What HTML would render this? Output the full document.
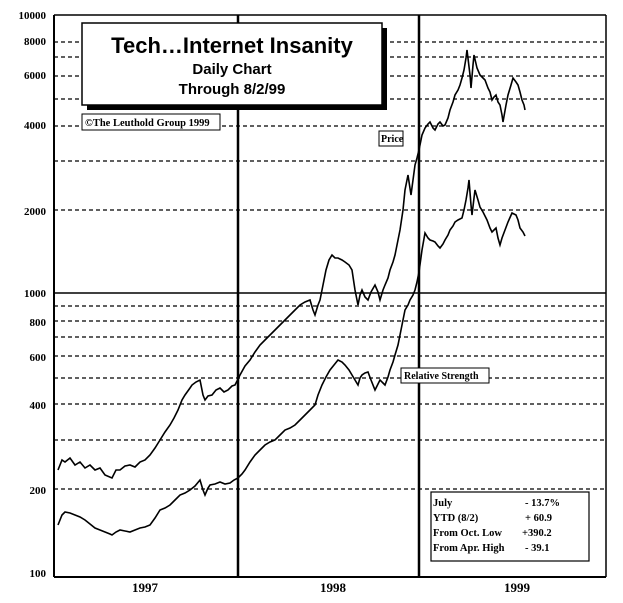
<!DOCTYPE html>
<html><head><meta charset="utf-8"><style>
body{margin:0;background:#fff;}
svg text{font-family:"Liberation Serif",serif;font-weight:bold;}
</style></head><body>
<svg width="623" height="598" viewBox="0 0 623 598" xmlns="http://www.w3.org/2000/svg">
<rect width="623" height="598" fill="#fff"/>
<g stroke="#000" stroke-width="1.3" stroke-dasharray="4,3">
<line x1="54" x2="606" y1="42" y2="42"/><line x1="54" x2="606" y1="57" y2="57"/>
<line x1="54" x2="606" y1="76" y2="76"/><line x1="54" x2="606" y1="99" y2="99"/>
<line x1="54" x2="606" y1="126" y2="126"/><line x1="54" x2="606" y1="161" y2="161"/>
<line x1="54" x2="606" y1="210" y2="210"/>
<line x1="54" x2="606" y1="306" y2="306"/><line x1="54" x2="606" y1="321" y2="321"/>
<line x1="54" x2="606" y1="337" y2="337"/><line x1="54" x2="606" y1="356" y2="356"/>
<line x1="54" x2="606" y1="378" y2="378"/><line x1="54" x2="606" y1="404" y2="404"/>
<line x1="54" x2="606" y1="440" y2="440"/><line x1="54" x2="606" y1="489" y2="489"/>
</g>
<g stroke="#000" fill="none">
<line x1="54" x2="606" y1="15" y2="15" stroke-width="1.5"/>
<line x1="54" x2="606" y1="293" y2="293" stroke-width="1.5"/>
<line x1="54" x2="606" y1="577" y2="577" stroke-width="2"/>
<line x1="54" x2="54" y1="15" y2="577" stroke-width="2"/>
<line x1="606" x2="606" y1="15" y2="577" stroke-width="1.5"/>
<line x1="238" x2="238" y1="15" y2="577" stroke-width="2.5"/>
<line x1="419" x2="419" y1="15" y2="577" stroke-width="2.5"/>
</g>
<polyline fill="none" stroke="#000" stroke-width="1.6" points="58,470 62,460 65,462 70,458 75,465 80,462 85,468 90,465 95,470 100,468 105,475 112,478 116,470 120,470 125,466 130,465 135,467 140,462 145,460 150,455 155,448 160,440 165,432 170,425 174,418 178,410 182,400 185,395 190,388 192,385 196,382 200,380 203,395 205,400 208,396 212,395 216,390 220,388 224,392 228,390 232,386 235,385 240,375 245,366 250,360 255,352 260,345 265,340 270,335 275,330 280,325 285,320 290,315 295,310 300,305 305,302 310,300 313,310 315,315 318,305 320,300 323,285 326,270 329,260 332,255 335,258 338,258 342,260 345,262 349,265 352,270 355,290 358,305 360,295 362,290 365,297 368,300 371,292 375,285 378,292 380,300 383,290 385,285 388,278 390,270 393,262 395,255 398,240 400,230 403,210 405,190 408,175 411,195 413,180 415,165 417,158 419,150 422,135 425,128 428,124 430,122 433,128 435,130 438,124 440,122 443,126 445,125 448,118 450,110 453,102 455,95 458,90 460,85 462,78 464,70 466,58 467,50 470,75 471,88 473,65 474,55 477,68 480,75 483,78 485,80 488,88 490,92 492,100 494,97 496,95 498,102 500,105 502,115 503,122 506,105 508,95 511,85 513,78 516,82 518,85 520,92 522,100 524,105 525,110"/>
<polyline fill="none" stroke="#000" stroke-width="1.6" points="58,525 62,515 65,512 70,513 75,515 80,517 85,520 90,524 95,528 100,530 105,532 110,534 112,535 116,532 120,530 125,531 130,532 135,530 140,528 145,527 150,525 155,518 160,510 165,508 170,505 175,500 180,495 185,493 190,490 195,486 200,480 203,490 205,495 208,488 210,485 215,484 220,482 225,484 230,483 234,480 238,478 242,474 245,470 250,462 255,455 260,450 265,445 270,442 275,440 280,435 285,430 290,428 295,425 300,420 305,415 310,410 315,405 318,395 322,385 326,377 330,370 334,365 338,360 342,362 345,365 349,370 352,375 355,380 358,385 360,378 362,375 365,373 368,372 371,380 375,390 378,384 380,380 383,383 385,385 388,377 390,370 393,362 395,355 398,345 400,335 403,320 405,310 408,305 410,300 413,295 415,290 417,282 419,272 422,250 425,233 428,238 430,240 433,241 435,242 438,246 440,248 443,244 445,240 448,235 450,230 453,226 455,222 458,220 462,218 464,210 466,200 468,188 469,180 471,205 472,215 474,198 475,190 478,200 480,207 483,212 487,220 490,228 492,232 494,230 496,228 498,238 500,245 502,238 505,230 508,222 512,213 516,215 518,220 520,228 523,232 525,236"/>
<rect x="87" y="28" width="300" height="82" fill="#000"/>
<rect x="82" y="23" width="300" height="82" fill="#fff" stroke="#000" stroke-width="1.5"/>
<text x="232" y="53" text-anchor="middle" style="font-family:'Liberation Sans',sans-serif;font-size:22px">Tech…Internet Insanity</text>
<text x="232" y="74" text-anchor="middle" style="font-family:'Liberation Sans',sans-serif;font-size:15px">Daily Chart</text>
<text x="232" y="94" text-anchor="middle" style="font-family:'Liberation Sans',sans-serif;font-size:15px">Through 8/2/99</text>
<rect x="82" y="114" width="138" height="16" fill="#fff" stroke="#000"/>
<text x="85" y="126" font-size="10.5">©The Leuthold Group 1999</text>
<rect x="379" y="131" width="24" height="15" fill="#fff" stroke="#000"/>
<text x="381" y="142" font-size="10">Price</text>
<rect x="401" y="368" width="88" height="15" fill="#fff" stroke="#000"/>
<text x="404" y="379" font-size="10">Relative Strength</text>
<rect x="431" y="492" width="158" height="69" fill="#fff" stroke="#000" stroke-width="1.2"/>
<g font-size="10.5">
<text x="433" y="506">July</text><text x="525" y="506">- 13.7%</text>
<text x="433" y="521">YTD (8/2)</text><text x="525" y="521">+ 60.9</text>
<text x="433" y="536">From Oct. Low</text><text x="522" y="536">+390.2</text>
<text x="433" y="551">From Apr. High</text><text x="525" y="551">- 39.1</text>
</g>
<g style="font-family:'Liberation Sans',sans-serif;font-size:11px" text-anchor="end">
<text x="46" y="19">10000</text><text x="46" y="45">8000</text><text x="46" y="79">6000</text>
<text x="46" y="129">4000</text><text x="46" y="215">2000</text><text x="46" y="297">1000</text>
<text x="46" y="326">800</text><text x="46" y="361">600</text><text x="46" y="409">400</text>
<text x="46" y="494">200</text><text x="46" y="577">100</text>
</g>
<g font-size="13" text-anchor="middle">
<text x="145" y="592">1997</text><text x="333" y="592">1998</text><text x="517" y="592">1999</text>
</g>
</svg>
</body></html>
